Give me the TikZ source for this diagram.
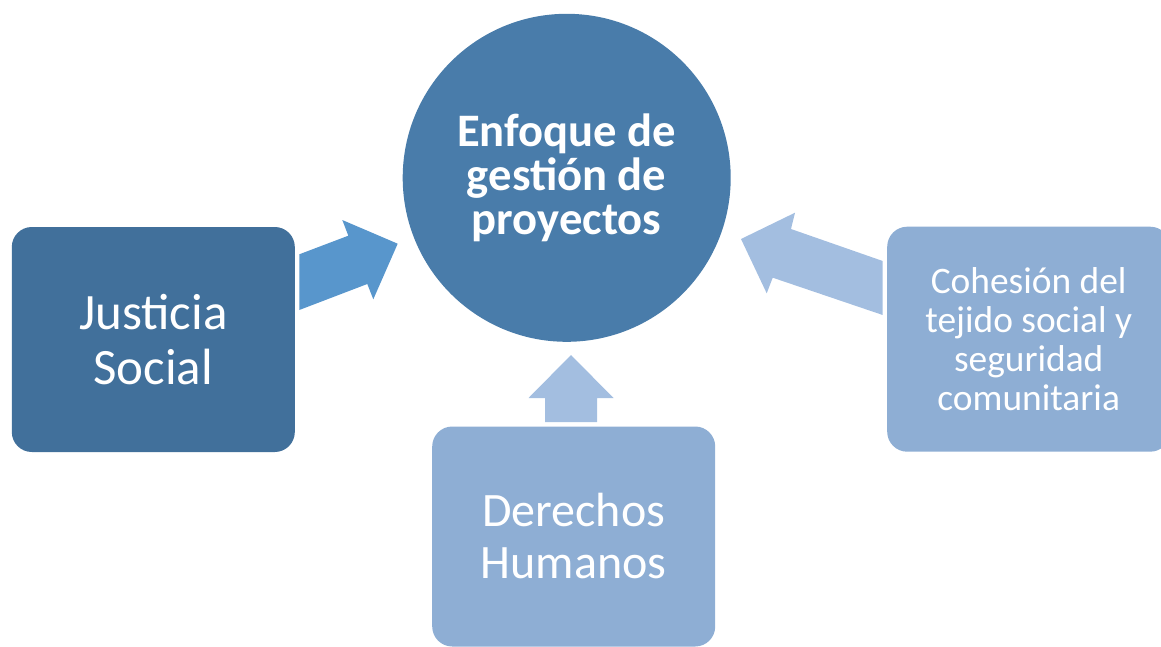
\documentclass[tikz,border=0pt]{standalone}
\usepackage{fontspec}
\setmainfont{Carlito}
\definecolor{hubblue}{RGB}{73,124,170}
\definecolor{darkbox}{RGB}{65,112,155}
\definecolor{lightbox}{RGB}{142,174,212}
\definecolor{midarrow}{RGB}{88,150,204}
\definecolor{lightarrow}{RGB}{163,190,224}

\begin{document}
\begin{tikzpicture} % one unit is one pixel of the sketch, y runs downward
    [x=0.5pt, y=-0.5pt,
      hub/.style={circle, inner sep=0pt, minimum size=164pt, fill=hubblue,
        text=white, align=center, font=\bfseries\fontsize{23.3}{22}\selectfont},
      box/.style={rectangle, rounded corners=10pt, inner sep=0pt,
        minimum width=141.5pt, minimum height=112.5pt, text=white, align=center},
      big/.style={font=\fontsize{24}{26}\selectfont},
      small/.style={font=\fontsize{18.7}{19.5}\selectfont}]
    \clip[use as bounding box] (0,0) rectangle (1161,647);
    % the hub and the three themes round it
    \node[hub] (enfoque) at (566.7,177.8) {Enfoque de\\gestión de\\proyectos};
    \node[box, big, fill=darkbox, font=\fontsize{25.5}{27.5}\selectfont] (justicia)
      at (153.3,339.5) {Justicia\\Social};
    \node[box, big, fill=lightbox, minimum height=110pt] (derechos) at (573.7,536.5)
      {Derechos\\Humanos};
    \node[box, small, fill=lightbox] (cohesion) at (1028.7,339.2)
      {Cohesión del\\tejido social y\\seguridad\\comunitaria};
    % block arrows, each one pointing at the hub
    \fill[midarrow] (299.3,254.3) -- (348.3,235.7) -- (342.3,220) -- (397.7,243.7)
      -- (373.3,299.3) -- (367.3,284) -- (299.3,310) -- cycle;
    \fill[lightarrow] (545,422) -- (545,398) -- (528.5,398) -- (571,355)
      -- (613.5,398) -- (597,398) -- (597,422) -- cycle;
    \fill[lightarrow] (882.7,261) -- (791,229) -- (795,212.7) -- (741,239)
      -- (766.7,293.3) -- (772.7,277.7) -- (882.7,315) -- cycle;
\end{tikzpicture}
\end{document}
